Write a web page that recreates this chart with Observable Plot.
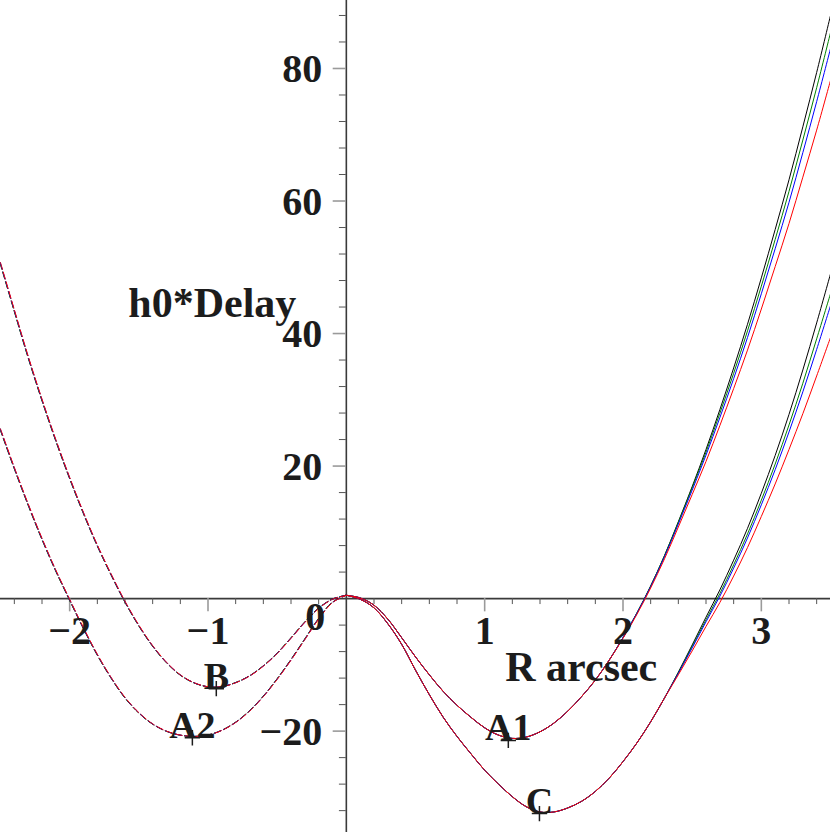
<!DOCTYPE html>
<html><head><meta charset="utf-8">
<script src="https://cdn.jsdelivr.net/npm/d3@7"></script>
<script src="https://cdn.jsdelivr.net/npm/@observablehq/plot@0.6"></script>
<style>
html,body{margin:0;padding:0;background:#fff;}
#chart svg{display:block;}
</style></head><body><div id="chart"></div>
<script>
// ---- data ----
const models = ["black", "green", "blue", "red"];
const modelColors = ["#1e1e1e", "#10a060", "#3c3cc8", "#f0283c"];

// solid cuts (R >= 0)
const rSolid = [0,0.1,0.2,0.3,0.4,0.5,0.6,0.7,0.8,0.9,1.0,1.1,1.2,1.3,1.4,1.5,1.6,1.7,1.8,1.9,2.0,2.1,2.2,2.3,2.4,2.5,2.6,2.7,2.8,2.9,3.0,3.1,3.2,3.3,3.4,3.5];
const delayA1 = [0.5,0.1,-1.0,-3.1,-5.9,-8.8,-11.5,-14.0,-16.1,-17.9,-19.5,-20.6,-21.1,-20.9,-20.1,-18.8,-17.0,-14.8,-12.3,-9.3,-5.9,-2.2,1.9,6.5,11.6,16.9,22.5,28.5,34.8,41.4,48.4,55.7,63.2,71.2,79.4,88.0];
const delayC  = [0.5,-0.1,-1.4,-3.8,-6.9,-10.8,-14.5,-17.9,-20.8,-23.4,-25.9,-28.0,-29.9,-31.4,-32.2,-32.2,-31.6,-30.6,-29.1,-27.1,-24.6,-21.8,-18.6,-15.0,-11.1,-7.0,-2.8,1.3,5.8,10.6,15.9,21.6,27.8,34.5,41.6,49.0];
// model differences for R = 2.0 ... 3.5 (relative to the black model)
const tailStartR = 2.0;
const a1TailGreen = [0,0,0,-0.05,-0.1,-0.2,-0.4,-0.55,-0.8,-1.0,-1.25,-1.5,-1.75,-2.0,-2.3,-2.6];
const a1TailBlue  = [0,-0.05,-0.1,-0.2,-0.35,-0.55,-0.85,-1.2,-1.6,-2.0,-2.4,-2.9,-3.4,-3.9,-4.4,-5.0];
const a1TailRed   = [-0.1,-0.2,-0.3,-0.5,-0.8,-1.2,-1.8,-2.4,-3.1,-3.9,-4.7,-5.6,-6.6,-7.6,-8.7,-9.8];
const cTailGreen  = [0,0,0,0,-0.1,-0.25,-0.4,-0.55,-0.7,-0.85,-1.05,-1.3,-1.6,-2.0,-2.4,-3.0];
const cTailBlue   = [0,0,0,0,-0.2,-0.45,-0.7,-0.95,-1.2,-1.45,-1.75,-2.15,-2.65,-3.3,-4.0,-4.8];
const cTailRed    = [0,0,0,0,-0.4,-0.9,-1.4,-1.9,-2.4,-2.9,-3.5,-4.3,-5.3,-6.6,-8.0,-9.6];

// dashed cuts (R <= 0); the four models coincide here
const rDashed = [-2.5,-2.4,-2.3,-2.2,-2.1,-2.0,-1.9,-1.8,-1.7,-1.6,-1.5,-1.4,-1.3,-1.2,-1.1,-1.0,-0.9,-0.8,-0.7,-0.6,-0.5,-0.4,-0.3,-0.2,-0.1,0];
const delayB  = [50.7,43.6,36.6,30.1,24.0,18.3,13.0,8.1,3.7,-0.4,-4.0,-7.1,-9.6,-11.5,-12.7,-13.3,-13.3,-12.7,-11.7,-10.2,-8.3,-6.0,-3.6,-1.5,-0.1,0.5];
const delayA2 = [25.6,19.8,14.3,9.1,4.3,-0.1,-4.4,-8.4,-11.9,-14.9,-17.2,-18.9,-20.0,-20.6,-20.8,-20.6,-19.9,-18.7,-17.0,-14.8,-12.2,-9.3,-6.2,-3.1,-0.6,0.5];

// images
const imageNames = ["A1", "C", "B", "A2"];
const imageR     = [1.171, 1.396, -0.94, -1.113];
const imageDelay = [-21.4, -32.45, -13.6, -21.0];

// ticks
const xTickValues = [-2, -1, 1, 2, 3];
const xTickLabels = ["\u22122", "\u22121", "1", "2", "3"];
const yTickValues = [-20, 20, 40, 60, 80];
const yTickLabels = ["\u221220", "20", "40", "60", "80"];

// ---- tables ----
const tails = {
  A1: {black: null, green: a1TailGreen, blue: a1TailBlue, red: a1TailRed},
  C:  {black: null, green: cTailGreen,  blue: cTailBlue,  red: cTailRed}
};
const tailIndex = rSolid.indexOf(tailStartR);

const solidRows = [];
const dashedRows = [];
for (const m of models) {
  for (const [name, base] of [["A1", delayA1], ["C", delayC]]) {
    const t = tails[name][m];
    rSolid.forEach((r, i) => {
      const off = t && i >= tailIndex ? t[i - tailIndex] : 0;
      solidRows.push({r, delay: base[i] + off, model: m, key: name + m});
    });
  }
  for (const [name, base] of [["B", delayB], ["A2", delayA2]]) {
    rDashed.forEach((r, i) => dashedRows.push({r, delay: base[i], model: m, key: name + m}));
  }
}
const images = imageNames.map((n, i) => ({name: n, r: imageR[i], delay: imageDelay[i]}));
const xTicks = xTickValues.map((v, i) => ({v, label: xTickLabels[i]}));
const yTicks = yTickValues.map((v, i) => ({v, label: yTickLabels[i]}));
const xMinor = d3.range(-24, 35, 2).map(d => d / 10).filter(d => Math.abs(d - Math.round(d)) > 1e-9);
const yMinor = d3.range(-32, 90, 4).filter(d => d % 20 !== 0);

const serif = "'Liberation Serif', 'Times New Roman', serif";
const ink = "#1c1c1c";
// tiny horizontal fringe so the coinciding dashed models peek out on steep parts
const dashShift = {black: -0.6, green: -0.4, blue: -0.2, red: 0};

const chart = Plot.plot({
  width: 830,
  height: 832,
  margin: 0,
  x: {domain: [-2.5, 3.5], axis: null},
  y: {domain: [-35.3, 90.26], axis: null},
  color: {domain: models, range: modelColors},
  style: {background: "#fff"},
  marks: [
    // axes through the origin
    Plot.ruleY([0], {stroke: "#3a3a3a", strokeWidth: 1.6}),
    Plot.ruleX([0], {stroke: "#3a3a3a", strokeWidth: 1.6}),
    Plot.ruleX(xMinor, {x: d => d, y1: 0, y2: -0.9, stroke: "#555", strokeWidth: 1}),
    Plot.ruleX(xTickValues, {x: d => d, y1: 0, y2: -2.0, stroke: "#9a9a9a", strokeWidth: 1.6}),
    Plot.ruleY(yMinor, {y: d => d, x1: 0, x2: -0.05, stroke: "#555", strokeWidth: 1}),
    Plot.ruleY(yTickValues, {y: d => d, x1: 0, x2: -0.095, stroke: "#9a9a9a", strokeWidth: 1.6}),
    // dashed curves, one mark per model so that dash phases stay aligned
    ...models.map(m => Plot.line(dashedRows.filter(d => d.model === m), {
      x: "r", y: "delay", z: "key", stroke: "model", strokeWidth: 1,
      strokeDasharray: "7,3", dx: dashShift[m], curve: "catmull-rom"
    })),
    // solid curves
    Plot.line(solidRows, {x: "r", y: "delay", z: "key", stroke: "model", strokeWidth: 1, curve: "catmull-rom"}),
    // tick labels
    Plot.text(xTicks, {x: "v", y: 0, text: "label", dy: 33, lineAnchor: "middle", fontSize: 40, fontWeight: "bold", fontFamily: serif, fill: ink}),
    Plot.text(yTicks, {x: 0, y: "v", text: "label", dx: -24, dy: 1, textAnchor: "end", lineAnchor: "middle", fontSize: 40, fontWeight: "bold", fontFamily: serif, fill: ink}),
    Plot.text(["0"], {x: 0, y: 0, text: d => d, dx: -21, dy: 19, textAnchor: "end", lineAnchor: "middle", fontSize: 40, fontWeight: "bold", fontFamily: serif, fill: ink}),
    // axis titles
    Plot.text(["h0*Delay"], {x: -1.576, y: 42.57, text: d => d, textAnchor: "start", lineAnchor: "bottom", fontSize: 42, fontWeight: "bold", fontFamily: serif, fill: ink}),
    Plot.text(["R arcsec"], {x: 1.149, y: -12.5, text: d => d, textAnchor: "start", lineAnchor: "bottom", fontSize: 42, fontWeight: "bold", fontFamily: serif, fill: ink}),
    // images
    Plot.text(images, {x: "r", y: "delay", text: "name", lineAnchor: "bottom", fontSize: 38, fontWeight: "bold", fontFamily: serif, fill: ink}),
    Plot.dot(images, {x: "r", y: "delay", symbol: "plus", r: 5, stroke: ink, strokeWidth: 1.5})
  ]
});
document.getElementById("chart").appendChild(chart);
</script>
</body></html>
